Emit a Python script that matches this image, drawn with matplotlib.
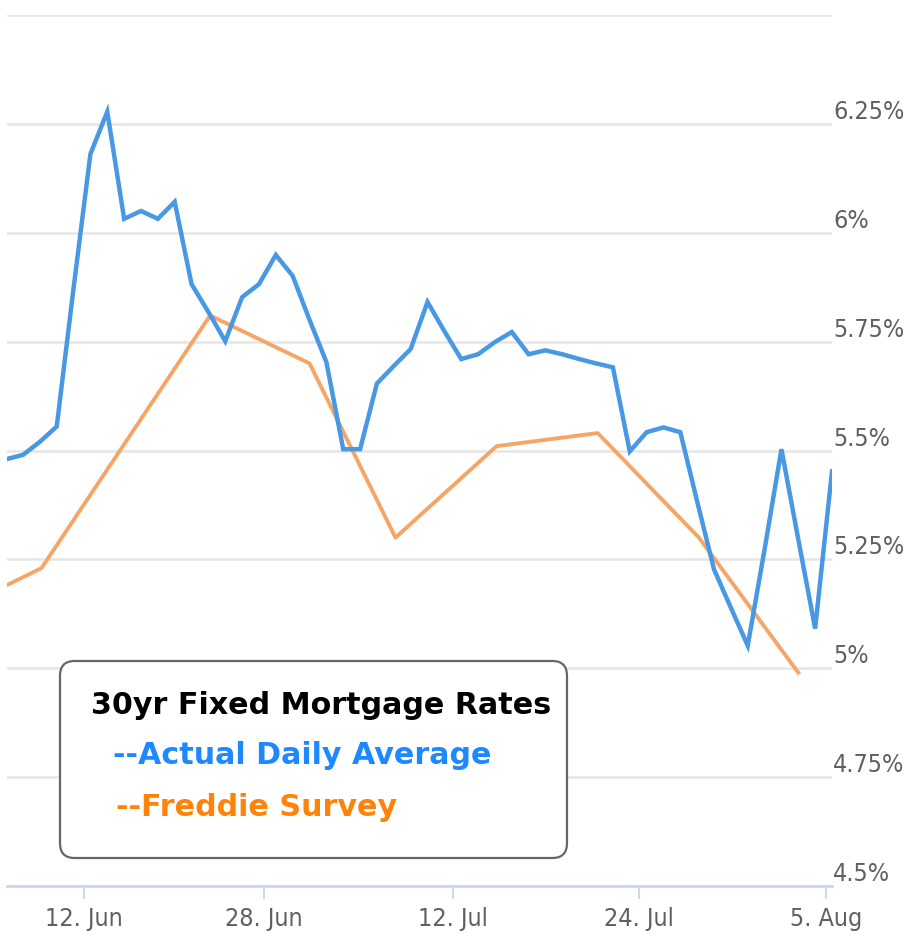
import matplotlib
matplotlib.use('Agg')
import matplotlib.pyplot as plt
from matplotlib.patches import FancyBboxPatch

# 30yr fixed rates, one value per trading day (ordinal axis)
daily_avg = [5.48, 5.49, 5.52, 5.555, 5.873, 6.181, 6.278, 6.032, 6.05, 6.032,
             6.071, 5.882, 5.818, 5.751, 5.852, 5.882, 5.949, 5.901, 5.80, 5.703,
             5.503, 5.503, 5.654, 5.694, 5.733, 5.841, 5.774, 5.710, 5.721, 5.749,
             5.772, 5.721, 5.730, 5.721, 5.710, 5.700, 5.691, 5.498, 5.542, 5.553,
             5.542, 5.383, 5.227, 5.139, 5.052, 5.273, 5.503, 5.296, 5.091, 5.452]

# Freddie Mac weekly survey, placed on the same ordinal axis
freddie_idx = [0.0, 2.1, 12.1, 18.0, 23.1, 29.1, 35.1, 41.1, 47.0]
freddie = [5.19, 5.23, 5.81, 5.70, 5.30, 5.51, 5.54, 5.30, 4.99]

tick_idx = [4.62, 15.3, 26.5, 37.56, 48.66]
tick_labels = ['12. Jun', '28. Jun', '12. Jul', '24. Jul', '5. Aug']

y_ticks = [4.5, 4.75, 5.0, 5.25, 5.5, 5.75, 6.0, 6.25, 6.5]
y_labels = ['4.5%', '4.75%', '5%', '5.25%', '5.5%', '5.75%', '6%', '6.25%', '']

lab_font = dict(family='DejaVu Sans', stretch='condensed', size=18,
                color='#606060')

fig = plt.figure(figsize=(9.06, 9.35), dpi=100)
ax = fig.add_axes([7 / 906, 1 - 886 / 935, 825 / 906, 871 / 935])

ax.plot(range(len(daily_avg)), daily_avg, color='#4898e4', lw=3.2,
        solid_joinstyle='miter', zorder=3)
ax.plot(freddie_idx, freddie, color='#f5a666', lw=2.8, zorder=2)

ax.set_xlim(0.05, 49.0)
ax.set_ylim(4.5, 6.5)

ax.set_yticks(y_ticks)
ax.set_yticklabels(y_labels, **lab_font)
ax.yaxis.tick_right()
ax.tick_params(axis='y', length=0, pad=1)
for lab in ax.get_yticklabels():
    lab.set_va('bottom')
ax.grid(axis='y', color='#e6e6e6', lw=1.8)
ax.set_axisbelow(True)

ax.set_xticks(tick_idx)
ax.set_xticklabels(tick_labels, **lab_font)
ax.tick_params(axis='x', length=9, width=1.3, color='#ccd6eb', pad=6)

for s in ['top', 'left', 'right']:
    ax.spines[s].set_visible(False)
ax.spines['bottom'].set_color('#ccd6eb')
ax.spines['bottom'].set_linewidth(2)

# legend box drawn as a rounded panel
box = FancyBboxPatch((60 / 906, 1 - 858 / 935), 507 / 906, 197 / 935,
                     boxstyle='round,pad=0,rounding_size=0.016',
                     transform=fig.transFigure, facecolor='white',
                     edgecolor='#666666', lw=1.6, zorder=5)
fig.patches.append(box)
fig.text(91 / 906, 1 - 706 / 935, '30yr Fixed Mortgage Rates', fontsize=21.7,
         fontweight='bold', color='black', va='center', zorder=6)
fig.text(113 / 906, 1 - 755 / 935, '--Actual Daily Average', fontsize=21.7,
         fontweight='bold', color='#1e88ff', va='center', zorder=6)
fig.text(116 / 906, 1 - 808 / 935, '--Freddie Survey', fontsize=21.7,
         fontweight='bold', color='#ff8308', va='center', zorder=6)

plt.savefig('out.png', dpi=100)
